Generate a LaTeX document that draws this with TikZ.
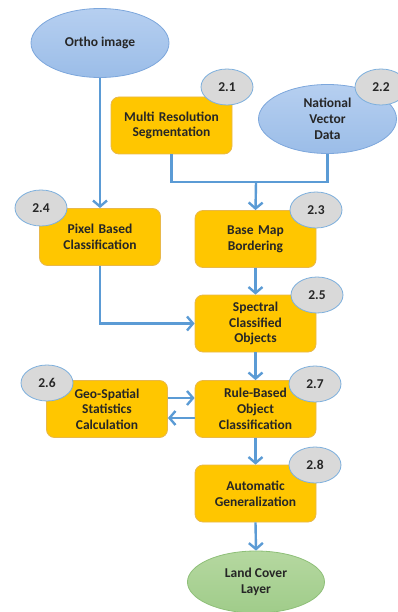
\documentclass[tikz,border=0pt]{standalone}
\usepackage{fontspec}
\setmainfont{Carlito}
\usetikzlibrary{shapes.geometric,arrows.meta}

\definecolor{flowblue}{HTML}{5B9BD5}
\definecolor{boxyellow}{HTML}{FFC600}
\definecolor{boxedge}{HTML}{E8B84A}
\definecolor{datatop}{HTML}{B6CFF0}
\definecolor{databot}{HTML}{9BBDE8}
\definecolor{dataedge}{HTML}{7DA7DC}
\definecolor{layertop}{HTML}{B5D8A0}
\definecolor{layerbot}{HTML}{A0CC8A}
\definecolor{layeredge}{HTML}{8EBF78}
\definecolor{tagfill}{HTML}{D9D9D9}

\begin{document}
\begin{tikzpicture}[x=1pt, y=-1pt,
    every node/.style={font=\bfseries\fontsize{13.5}{15.7}\selectfont, text=black!85, align=center},
    process/.style={rectangle, rounded corners=8pt, fill=boxyellow, draw=boxedge, line width=0.8pt,
        minimum width=121pt, minimum height=57pt, inner sep=2pt, text width=117pt},
    data/.style={ellipse, top color=datatop, bottom color=databot, draw=dataedge, line width=0.8pt,
        minimum width=138pt, minimum height=69pt, inner sep=0pt},
    layer/.style={ellipse, top color=layertop, bottom color=layerbot, draw=layeredge, line width=0.8pt,
        minimum width=137pt, minimum height=62pt, inner sep=0pt},
    tag/.style={ellipse, fill=tagfill, draw=flowblue!80, line width=0.8pt,
        minimum width=52pt, minimum height=36pt, inner sep=0pt},
    flow/.style={draw=flowblue, line width=2.4pt, -{Straight Barb[length=6pt,width=14pt,line width=2.4pt]}},
    line/.style={draw=flowblue, line width=2.4pt}]
    \useasboundingbox (0,0) rectangle (398,612);

    % Inputs
    \node[data] (ortho) at (100,43) {Ortho image};
    \node[data] (nvd) at (327.5,119) {National\\Vector\\Data};
    \node[process] (mrs) at (171.5,125.5) {Multi Resolution\\Segmentation};

    % Processing steps
    \node[process] (pix) at (100,237) {Pixel Based\\Classification};
    \node[process] (base) at (255.5,239) {Base Map\\Bordering};
    \node[process] (spec) at (255.5,323.5) {Spectral\\Classified\\Objects};
    \node[process] (geo) at (107,409) {Geo-Spatial\\Statistics\\Calculation};
    \node[process] (rule) at (255.5,409) {Rule-Based\\Object\\Classification};
    \node[process] (auto) at (255.5,493.5) {Automatic\\Generalization};

    % Output
    \node[layer] (land) at (256,582) {Land Cover\\Layer};

    % Step numbers
    \node[tag] (t21) at (227,87) {2.1};
    \node[tag] (t22) at (381,87) {2.2};
    \node[tag] (t23) at (316,210) {2.3};
    \node[tag] (t24) at (41,208) {2.4};
    \node[tag] (t25) at (317,295) {2.5};
    \node[tag] (t26) at (47,383) {2.6};
    \node[tag] (t27) at (315,384) {2.7};
    \node[tag] (t28) at (315,465) {2.8};

    % Connectors
    \coordinate (join) at (256,182);
    \draw[line] (mrs.south) |- (join) -| (nvd.south);
    \draw[flow] (join) -- (base.north);
    \draw[flow] (ortho.south) -- (pix.north);
    \draw[flow] (base.south) -- (spec.north);
    \draw[flow] (pix.south) |- (spec.west);
    \draw[flow] (spec.south) -- (rule.north);
    \draw[flow] ([yshift=11pt]geo.east) -- ([yshift=11pt]rule.west);
    \draw[flow] ([yshift=-9pt]rule.west) -- ([yshift=-9pt]geo.east);
    \draw[flow] (rule.south) -- (auto.north);
    \draw[flow] (auto.south) -- (land.north);
\end{tikzpicture}
\end{document}
